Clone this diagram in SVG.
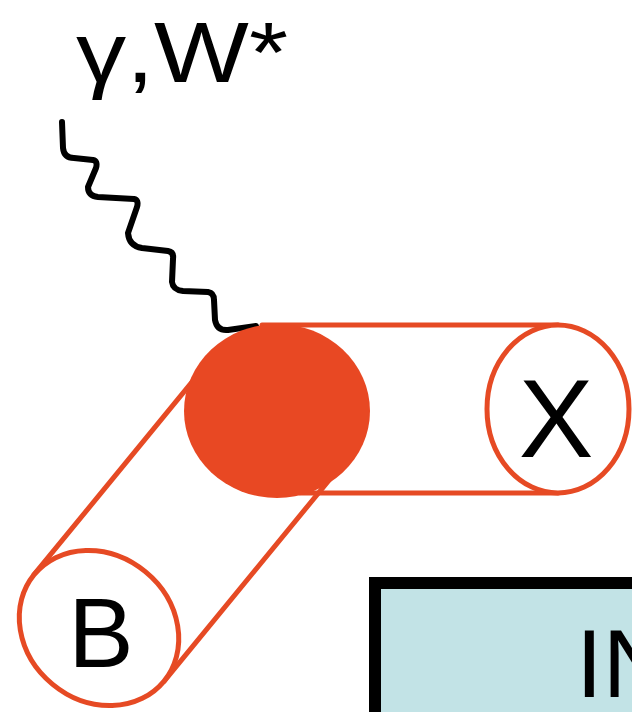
<svg xmlns="http://www.w3.org/2000/svg" width="632" height="712" viewBox="0 0 632 712">
  <style>
    .tube { stroke: #e64a24; stroke-width: 5; fill: none; stroke-linecap: round; }
    .cap { stroke: #e64a24; stroke-width: 5; fill: #ffffff; }
    .lbl { font-family: "Liberation Sans", Arial, sans-serif; fill: #000000; }
  </style>
  <rect x="0" y="0" width="632" height="712" fill="#ffffff"/>
  <g id="connectors">
    <line class="tube" x1="34" y1="574.7" x2="212" y2="357.7"/>
    <line class="tube" x1="164" y1="681.3" x2="342" y2="464.3"/>
    <line class="tube" x1="262" y1="325" x2="558" y2="325"/>
    <line class="tube" x1="300" y1="493" x2="558" y2="493"/>
    <path id="wave" d="M62,122 L63,148 Q64,158 74,158 L93,160 Q98,161 96,168 L88,187 Q88,196 98,197 L134,199 Q139,200 137,207 L128,233 Q129,246 142,248 L168,251 Q174,252 173,259 L172,282 Q173,290 183,291 L208,292 Q214,293 214,300 L215,320 Q217,331 228,330 L256,326" fill="none" stroke="#000000" stroke-width="6" stroke-linecap="round" stroke-linejoin="round"/>
  </g>
  <g id="node-B">
    <ellipse class="cap" cx="99" cy="628" rx="84" ry="73" transform="rotate(39.4 99 628)"/>
    <text class="lbl" x="101" y="667" font-size="98" text-anchor="middle">B</text>
  </g>
  <g id="node-X">
    <ellipse class="cap" cx="558" cy="409" rx="71" ry="84"/>
    <text class="lbl" x="556" y="457" font-size="112" text-anchor="middle">X</text>
  </g>
  <g id="node-blob">
    <ellipse cx="277" cy="411" rx="93" ry="87" fill="#e84823"/>
  </g>
  <g id="node-label">
    <text class="lbl" x="76" y="82" font-size="85" textLength="212" lengthAdjust="spacingAndGlyphs">γ,W*</text>
  </g>
  <g id="node-IN">
    <rect x="375" y="583" width="300" height="200" fill="#c2e3e6" stroke="#000000" stroke-width="12"/>
    <text class="lbl" x="576" y="697" font-size="96">IN</text>
  </g>
</svg>
